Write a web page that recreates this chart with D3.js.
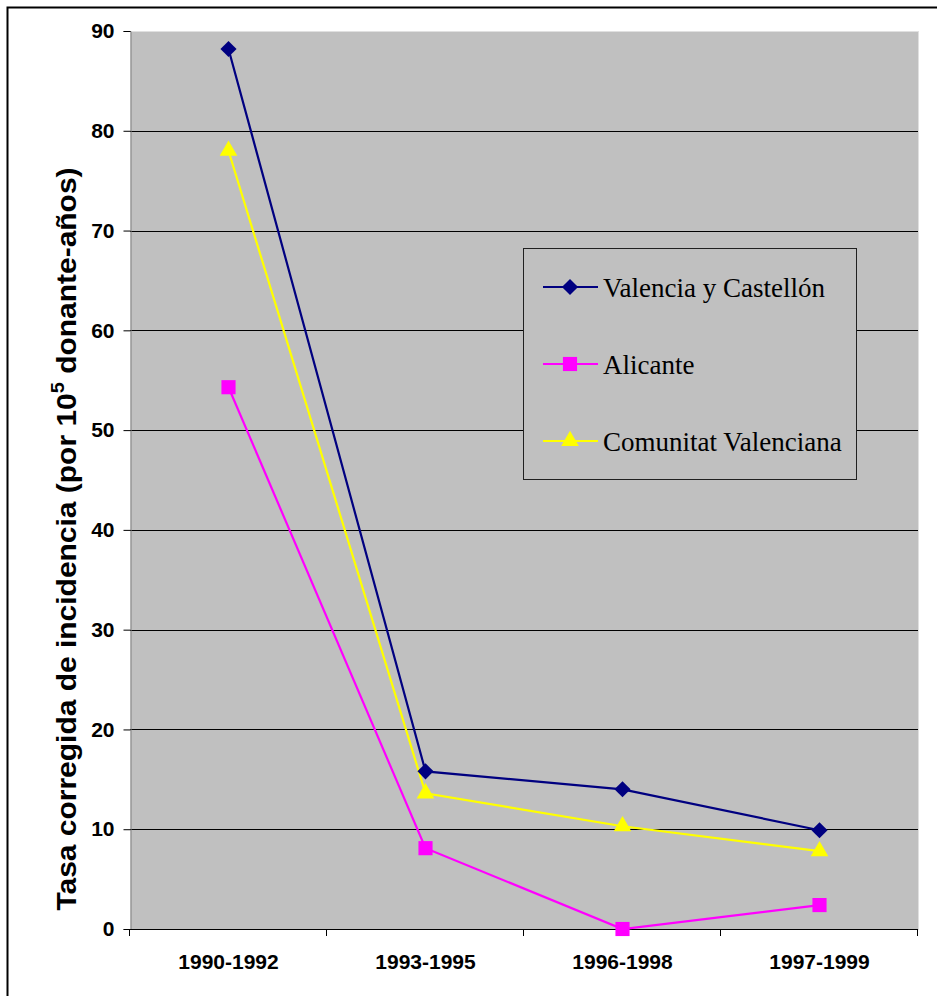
<!DOCTYPE html>
<html>
<head>
<meta charset="utf-8">
<script src="https://cdn.jsdelivr.net/npm/d3@7"></script>
<style>
  html, body { margin: 0; padding: 0; background: #fff; }
  svg { display: block; }
</style>
</head>
<body>
<svg id="chart" width="937" height="996"></svg>
<script>
// Periods and corrected incidence rates per 10^5 donor-years
const periods = ["1990-1992", "1993-1995", "1996-1998", "1997-1999"];
const valenciaCastellon = [88.2, 15.8, 14.0, 9.9];
const alicante = [54.3, 8.1, 0.0, 2.4];
const comunitat = [78.0, 13.6, 10.3, 7.8];
const yTicks = [0, 10, 20, 30, 40, 50, 60, 70, 80, 90];

const series = [
  { name: "Valencia y Castellón", values: valenciaCastellon, color: "#000080", symbol: d3.symbolSquare, size: 130, rotate: 45 },
  { name: "Alicante", values: alicante, color: "#FF00FF", symbol: d3.symbolSquare, size: 200, rotate: 0 },
  { name: "Comunitat Valenciana", values: comunitat, color: "#FFFF00", symbol: d3.symbolTriangle, size: 135, rotate: 0 }
];

const svg = d3.select("#chart");
const plot = { left: 130, top: 31, right: 918, bottom: 929 };
const axisFont = "Liberation Sans, Arial, sans-serif";

// Outer frame
svg.append("path")
  .attr("d", "M7.5,996 V7.5 H937")
  .attr("fill", "none").attr("stroke", "#000").attr("stroke-width", 2);

const x = d3.scaleBand().domain(periods).range([plot.left, plot.right]);
const y = d3.scaleLinear().domain([0, 90]).range([plot.bottom, plot.top]);

// Plot background
svg.append("rect")
  .attr("x", plot.left + 0.5).attr("y", plot.top + 0.5)
  .attr("width", plot.right - plot.left).attr("height", plot.bottom - plot.top)
  .attr("fill", "#C0C0C0")
  .attr("stroke", "#E0E0E0").attr("stroke-width", 1);

// Horizontal gridlines
svg.append("g")
  .selectAll("line")
  .data(yTicks.filter(t => t > 0 && t < 90))
  .join("line")
  .attr("x1", plot.left).attr("x2", plot.right)
  .attr("y1", d => Math.round(y(d)) + 0.5).attr("y2", d => Math.round(y(d)) + 0.5)
  .attr("stroke", "#000").attr("stroke-width", 1);

// Y axis
const yAxis = svg.append("g")
  .attr("transform", `translate(${plot.left + 0.5},0)`)
  .call(d3.axisLeft(y).tickValues(yTicks).tickSize(7).tickPadding(9));
yAxis.select(".domain").attr("stroke", "#808080");
yAxis.selectAll(".tick line").attr("stroke", "#000");
yAxis.selectAll("text")
  .attr("font-family", axisFont)
  .attr("font-weight", "bold").attr("font-size", 21).attr("fill", "#000");

// X axis with ticks at category boundaries
const xAxisG = svg.append("g").attr("transform", `translate(0,${plot.bottom})`);
xAxisG.append("line")
  .attr("x1", plot.left).attr("x2", plot.right).attr("y1", 0.5).attr("y2", 0.5)
  .attr("stroke", "#000").attr("stroke-width", 1);
const boundaries = periods.map(p => x(p)).concat([x(periods[periods.length - 1]) + x.bandwidth()]);
xAxisG.selectAll("line.tk")
  .data(boundaries)
  .join("line").attr("class", "tk")
  .attr("x1", d => Math.round(d) - 0.5).attr("x2", d => Math.round(d) - 0.5)
  .attr("y1", 0).attr("y2", 7)
  .attr("stroke", "#000");
xAxisG.selectAll("text")
  .data(periods)
  .join("text")
  .attr("x", d => x(d) + x.bandwidth() / 2)
  .attr("y", 40)
  .attr("text-anchor", "middle")
  .attr("font-family", axisFont)
  .attr("font-weight", "bold").attr("font-size", 21)
  .text(d => d);

// Y axis title (slightly stretched along its length)
const title = svg.append("text")
  .attr("transform", "translate(76,539) rotate(-90) scale(1.11,1)")
  .attr("text-anchor", "middle")
  .attr("font-family", axisFont)
  .attr("font-weight", "bold").attr("font-size", 27);
title.append("tspan").text("Tasa corregida de incidencia (por 10");
title.append("tspan").attr("font-size", 18).attr("dy", -12).text("5");
title.append("tspan").attr("dy", 12).text(" donante-años)");

// Series lines and markers
const cx = i => x(periods[i]) + x.bandwidth() / 2;
const line = d3.line()
  .x((d, i) => cx(i))
  .y(d => y(d));

series.forEach(s => {
  svg.append("path")
    .datum(s.values)
    .attr("d", line)
    .attr("fill", "none")
    .attr("stroke", s.color)
    .attr("stroke-width", 2.2);
});
series.forEach(s => {
  svg.append("g")
    .selectAll("path")
    .data(s.values)
    .join("path")
    .attr("transform", (d, i) => `translate(${cx(i)},${y(d)}) rotate(${s.rotate})`)
    .attr("d", d3.symbol().type(s.symbol).size(s.size))
    .attr("fill", s.color);
});

// Legend
const legend = svg.append("g").attr("transform", "translate(523,248)");
legend.append("rect")
  .attr("x", 0.5).attr("y", 0.5).attr("width", 333).attr("height", 231)
  .attr("fill", "#C0C0C0").attr("stroke", "#202020").attr("stroke-width", 1);
series.forEach((s, i) => {
  const cy = 39 + i * 77;
  const row = legend.append("g").attr("transform", `translate(0,${cy})`);
  row.append("line")
    .attr("x1", 20).attr("x2", 75).attr("y1", 0).attr("y2", 0)
    .attr("stroke", s.color).attr("stroke-width", 2.2);
  row.append("path")
    .attr("transform", `translate(47,0) rotate(${s.rotate})`)
    .attr("d", d3.symbol().type(s.symbol).size(s.size))
    .attr("fill", s.color);
  row.append("text")
    .attr("x", 80).attr("y", 10)
    .attr("font-family", "Liberation Serif, Times New Roman, serif")
    .attr("font-size", 27)
    .text(s.name);
});
</script>
</body>
</html>
